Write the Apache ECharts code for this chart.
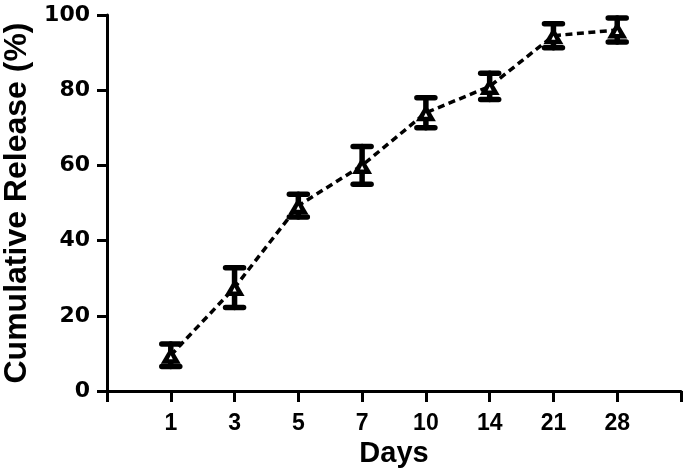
<!DOCTYPE html>
<html><head><meta charset="utf-8">
<script src="https://cdn.jsdelivr.net/npm/echarts@6/dist/echarts.min.js"></script>
<style>html,body{margin:0;padding:0;background:#fff}#c{width:687px;height:474px}</style>
</head><body><div id="c"></div>
<script>
var categories = ['', '1', '3', '5', '7', '10', '14', '21', '28', ''];
var days = ['1', '3', '5', '7', '10', '14', '21', '28'];
var meanValues = [9.5, 27.5, 49.3, 60, 74, 81, 94.5, 96];
var errValues = [3, 5.3, 3, 5, 4, 3.5, 3.2, 3.2];
var yTicks = [0, 20, 40, 60, 80, 100];

var chart = echarts.init(document.getElementById('c'));
var font = '"Liberation Sans", Arial, sans-serif';
var wideFont = '"DejaVu Sans", sans-serif';
var lineData = days.map(function (d, i) { return [d, meanValues[i]]; });
var errData = days.map(function (d, i) { return [d, meanValues[i] - errValues[i], meanValues[i] + errValues[i]]; });

chart.setOption({
  animation: false,
  grid: { left: 107, right: 6, top: 15, bottom: 83, containLabel: false, outerBoundsMode: 'none' },
  xAxis: {
    type: 'category', data: categories, boundaryGap: false,
    name: 'Days', nameLocation: 'middle', nameGap: 44,
    nameTextStyle: { fontFamily: font, fontWeight: 'bold', fontSize: 29, color: '#000', verticalAlign: 'top' },
    axisLine: { lineStyle: { color: '#000', width: 3 } },
    axisTick: { show: true, length: 11, lineStyle: { color: '#000', width: 3 }, interval: 0 },
    axisLabel: { interval: 0, margin: 21, fontFamily: font, fontWeight: 'bold', fontSize: 23, color: '#000' },
    splitLine: { show: false }
  },
  yAxis: {
    type: 'value', min: yTicks[0], max: yTicks[yTicks.length - 1], interval: 20,
    name: 'Cumulative Release (%)', nameLocation: 'middle', nameGap: 73,
    nameTextStyle: { fontFamily: font, fontWeight: 'bold', fontSize: 32, color: '#000' },
    axisLine: { show: true, lineStyle: { color: '#000', width: 3 } },
    axisTick: { show: true, length: 10, lineStyle: { color: '#000', width: 3 } },
    axisLabel: { margin: 17, fontFamily: wideFont, fontWeight: 'bold', fontSize: 22, color: '#000' },
    splitLine: { show: false }
  },
  series: [
    {
      type: 'line', data: lineData, symbol: 'none',
      lineStyle: { color: '#000', width: 3.5, type: [7, 4.5] }, z: 2
    },
    {
      type: 'custom', data: errData, z: 3,
      renderItem: function (params, api) {
        var x = api.value(0);
        var lo = api.coord([x, api.value(1)]);
        var hi = api.coord([x, api.value(2)]);
        var hw = 9;
        var st = { stroke: '#000', lineWidth: 5.5, lineCap: 'round' };
        return {
          type: 'group', children: [
            { type: 'line', shape: { x1: lo[0], y1: lo[1], x2: hi[0], y2: hi[1] }, style: st },
            { type: 'line', shape: { x1: lo[0] - hw, y1: lo[1], x2: lo[0] + hw, y2: lo[1] }, style: st },
            { type: 'line', shape: { x1: hi[0] - hw, y1: hi[1], x2: hi[0] + hw, y2: hi[1] }, style: st }
          ]
        };
      }
    },
    {
      type: 'scatter', data: lineData, symbol: 'triangle', symbolSize: [20, 17], z: 4,
      itemStyle: { color: '#000', opacity: 1 }
    },
    {
      type: 'scatter', data: lineData, symbol: 'triangle', symbolSize: [4, 4], symbolOffset: [0, 2], z: 5,
      itemStyle: { color: '#fff', opacity: 1 }
    }
  ]
});
</script></body></html>
